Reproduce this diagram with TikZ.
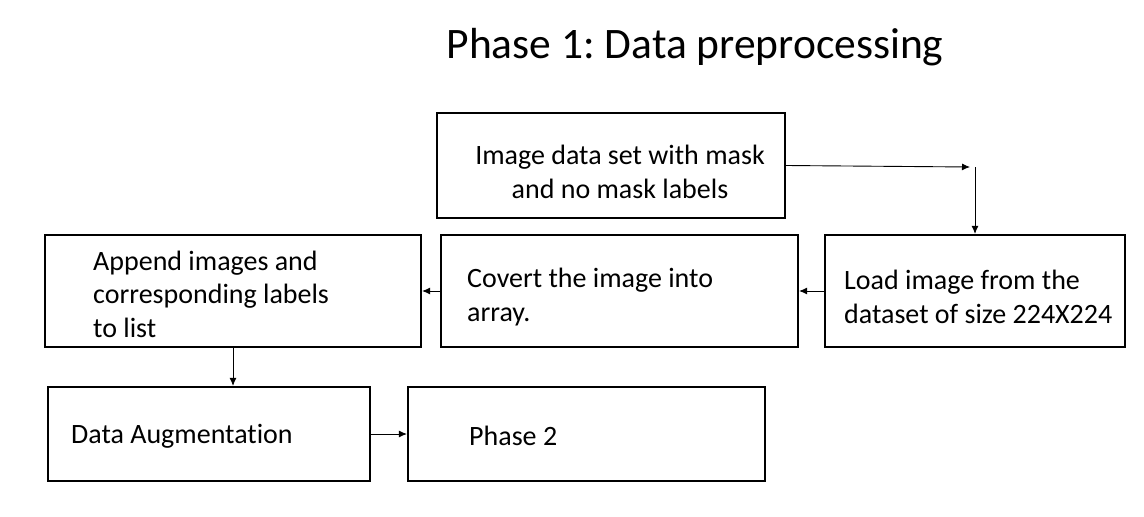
\documentclass[tikz,border=0pt]{standalone}
\usepackage{fontspec}
\setmainfont{Carlito}[Ligatures=NoCommon]
\frenchspacing
\usetikzlibrary{arrows.meta}

\begin{document}
\begin{tikzpicture}[x=1pt, y=-1pt,
    stage/.style ={draw, line width=2.2pt, inner sep=0pt},
    stagetext/.style ={anchor=west, inner sep=0pt, align=left, font=\fontsize{28}{33.5}\selectfont},
    flow/.style ={line width=0.9pt, -{Latex[length=8pt,width=7pt]}}]
   \useasboundingbox (0,0) rectangle (1144,517);
   \node[font=\fontsize{43.5}{50}\selectfont] (title) at (695,47) {Phase 1: Data preprocessing};

   \node[stage, minimum width=348, minimum height=105] (dataset) at (611,165.5) {};
   \node[stage, minimum width=300, minimum height=112] (load) at (975,291) {};
   \node[stage, minimum width=357, minimum height=112] (convert) at (619.5,291) {};
   \node[stage, minimum width=376, minimum height=112] (append) at (233,291) {};
   \node[stage, minimum width=322, minimum height=94] (augment) at (209,434) {};
   \node[stage, minimum width=357, minimum height=94] (phase2) at (586.5,434) {};

   \node[stagetext, align=center, anchor=center] (datasettext) at (620,172) {Image data set with mask\\and no mask labels};
   \node[stagetext] (loadtext) at (844,297) {Load image from the\\dataset of size 224X224};
   \node[stagetext] (converttext) at (467,297) {Covert the image into\\array.};
   \node[stagetext] (appendtext) at (93,294) {Append images and\\corresponding labels\\to list};
   \node[stagetext] (augmenttext) at (71,436) {Data Augmentation};
   \node[stagetext] (phase2text) at (469,436) {Phase 2};

   \coordinate (bendin) at (970,167);
   \coordinate (bendout) at (975,167);

   \draw[flow] (dataset.east) to (bendin);
   \draw[flow] (bendout) to (load.north);
   \draw[flow] (load.west) to (convert.east);
   \draw[flow] (convert.west) to (append.east);
   \draw[flow] (append.south) to (append.south |- augment.north);
   \draw[flow] (augment.east) to (phase2.west);
 \end{tikzpicture}
\end{document}
